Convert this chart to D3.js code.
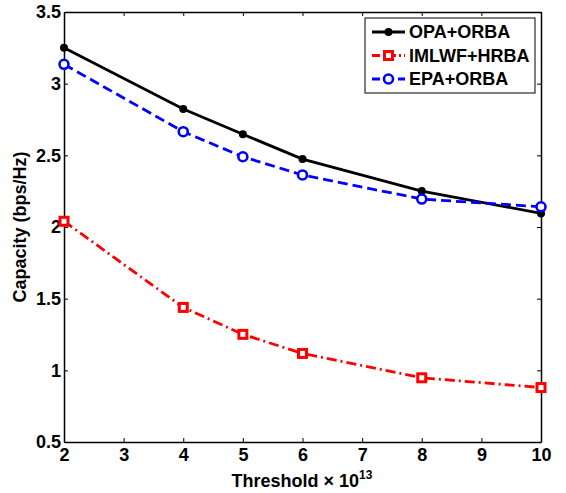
<!DOCTYPE html>
<html>
<head>
<meta charset="utf-8">
<script src="https://cdn.jsdelivr.net/npm/d3@7"></script>
<style>
body { margin: 0; background: #fff; }
text { font-family: Arial, "Liberation Sans", sans-serif; font-weight: bold; }
</style>
</head>
<body>
<script>
var width = 566;
var height = 493;

// data
var thresholds = [2, 4, 5, 6, 8, 10];
var opaOrba = [3.25, 2.823, 2.647, 2.474, 2.251, 2.095];
var imlwfHrba = [2.04, 1.439, 1.251, 1.118, 0.948, 0.88];
var epaOrba = [3.135, 2.665, 2.49, 2.363, 2.195, 2.141];
var xTicks = [2, 3, 4, 5, 6, 7, 8, 9, 10];
var yTicks = [0.5, 1, 1.5, 2, 2.5, 3, 3.5];
var seriesNames = ["OPA+ORBA", "IMLWF+HRBA", "EPA+ORBA"];

var plotLeft = 64, plotRight = 541, plotTop = 12, plotBottom = 442;
var fontSize = "18px";

var x = d3.scaleLinear().domain([2, 10]).range([plotLeft, plotRight]);
var y = d3.scaleLinear().domain([0.5, 3.5]).range([plotBottom, plotTop]);

var svg = d3.select("body").append("svg")
    .attr("width", width)
    .attr("height", height);

svg.append("rect")
    .attr("width", width)
    .attr("height", height)
    .attr("fill", "#fff");

// axes, ticks point inwards
var tickLen = 4;
var bottomAxis = svg.append("g").attr("transform", "translate(0," + plotBottom + ")")
    .call(d3.axisBottom(x).tickValues(xTicks).tickSizeInner(-tickLen).tickSizeOuter(0).tickPadding(6));
var topAxis = svg.append("g").attr("transform", "translate(0," + plotTop + ")")
    .call(d3.axisTop(x).tickValues(xTicks).tickSizeInner(-tickLen).tickSizeOuter(0).tickFormat(""));
var leftAxis = svg.append("g").attr("transform", "translate(" + plotLeft + ",0)")
    .call(d3.axisLeft(y).tickValues(yTicks).tickSizeInner(-tickLen).tickSizeOuter(0).tickPadding(3).tickFormat(d3.format("")));
var rightAxis = svg.append("g").attr("transform", "translate(" + plotRight + ",0)")
    .call(d3.axisRight(y).tickValues(yTicks).tickSizeInner(-tickLen).tickSizeOuter(0).tickFormat(""));

[bottomAxis, topAxis, leftAxis, rightAxis].forEach(function(g) {
    g.select(".domain").attr("stroke", "#000").attr("stroke-width", 1.5);
    g.selectAll(".tick line").attr("stroke", "#000").attr("stroke-width", 1);
    g.selectAll("text").attr("fill", "#000").style("font-size", fontSize)
        .style("font-family", "Arial, 'Liberation Sans', sans-serif").style("font-weight", "bold");
});
bottomAxis.selectAll("text").attr("dy", "0.71em");

// series
var series = [
    { name: seriesNames[0], values: opaOrba, color: "#000", dash: null, marker: "dot" },
    { name: seriesNames[1], values: imlwfHrba, color: "#ff0000", dash: "10,4,2,4", marker: "square" },
    { name: seriesNames[2], values: epaOrba, color: "#0000ff", dash: "10,5", marker: "circle" }
];

var line = d3.line()
    .x(function(d) { return x(d[0]); })
    .y(function(d) { return y(d[1]); });

function drawMarker(g, type, color, cx, cy) {
    if (type == "dot") {
        g.append("circle").attr("cx", cx).attr("cy", cy).attr("r", 4).attr("fill", color);
    } else if (type == "square") {
        g.append("rect").attr("x", cx - 4).attr("y", cy - 4).attr("width", 8).attr("height", 8)
            .attr("fill", "#fff").attr("stroke", color).attr("stroke-width", 3);
    } else {
        g.append("circle").attr("cx", cx).attr("cy", cy).attr("r", 4.5)
            .attr("fill", "#fff").attr("stroke", color).attr("stroke-width", 2.6);
    }
}

series.forEach(function(s) {
    var pts = thresholds.map(function(t, i) { return [t, s.values[i]]; });
    svg.append("path")
        .datum(pts)
        .attr("d", line)
        .attr("fill", "none")
        .attr("stroke", s.color)
        .attr("stroke-width", 2.8)
        .attr("stroke-dasharray", s.dash);
    var mg = svg.append("g");
    pts.forEach(function(p) { drawMarker(mg, s.marker, s.color, x(p[0]), y(p[1])); });
});

// legend
var legend = svg.append("g");
legend.append("rect")
    .attr("x", 365).attr("y", 18).attr("width", 170).attr("height", 75)
    .attr("fill", "#fff").attr("stroke", "#000").attr("stroke-width", 1);

series.forEach(function(s, i) {
    var ly = 32 + i * 23.5;
    legend.append("line")
        .attr("x1", 372).attr("x2", 405).attr("y1", ly).attr("y2", ly)
        .attr("stroke", s.color).attr("stroke-width", 2.8)
        .attr("stroke-dasharray", s.dash ? (i == 1 ? "8,3,2,3" : "8,5") : null);
    drawMarker(legend, s.marker, s.color, 388.5, ly);
    legend.append("text")
        .attr("x", 409).attr("y", ly).attr("dy", "0.36em")
        .style("font-size", fontSize)
        .text(s.name);
});

// axis labels
svg.append("text")
    .attr("transform", "translate(20," + ((plotTop + plotBottom) / 2) + ") rotate(-90)")
    .attr("text-anchor", "middle")
    .attr("dy", "0.35em")
    .style("font-size", fontSize)
    .text("Capacity (bps/Hz)");

var xl = svg.append("text")
    .attr("x", 302).attr("y", 487)
    .attr("text-anchor", "middle")
    .style("font-size", fontSize);
xl.append("tspan").text("Threshold \u00d7 10");
xl.append("tspan").attr("dy", -8).style("font-size", "12px").text("13");
</script>
</body>
</html>
